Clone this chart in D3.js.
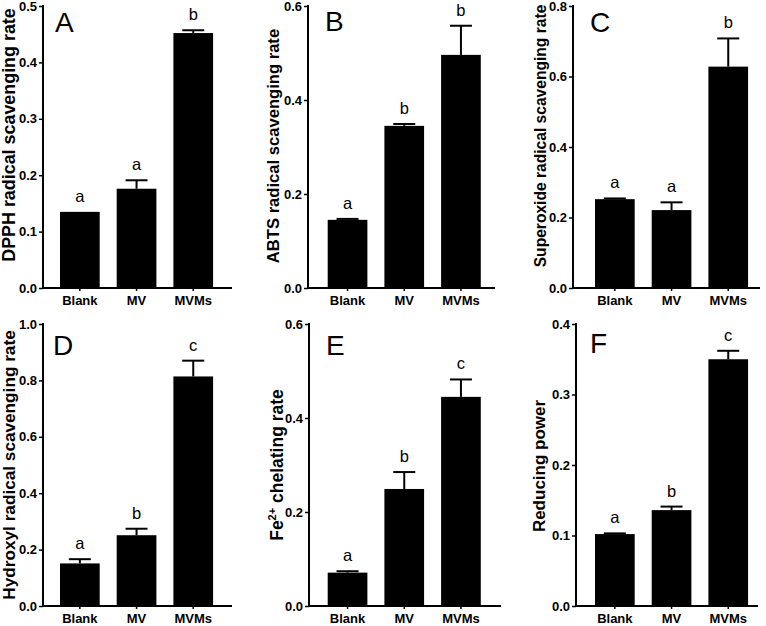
<!DOCTYPE html>
<html>
<head>
<meta charset="utf-8">
<script src="https://cdn.jsdelivr.net/npm/d3@7"></script>
<style>
  html, body { margin: 0; padding: 0; background: #fff; }
  svg { display: block; }
  text { font-family: "Liberation Sans", Arial, sans-serif; fill: #000; }
</style>
</head>
<body>
<svg id="chart" width="766" height="626"></svg>
<script>
// ---------- data ----------
const categories = ["Blank", "MV", "MVMs"];

const dpphValues = [0.135, 0.176, 0.452];
const dpphErrors = [0.000, 0.015, 0.005];
const dpphLetters = ["a", "a", "b"];
const dpphTicks = [0.0, 0.1, 0.2, 0.3, 0.4, 0.5];

const abtsValues = [0.145, 0.345, 0.496];
const abtsErrors = [0.002, 0.004, 0.062];
const abtsLetters = ["a", "b", "b"];
const abtsTicks = [0.0, 0.2, 0.4, 0.6];

const superoxideValues = [0.252, 0.221, 0.628];
const superoxideErrors = [0.002, 0.022, 0.080];
const superoxideLetters = ["a", "a", "b"];
const superoxideTicks = [0.0, 0.2, 0.4, 0.6, 0.8];

const hydroxylValues = [0.151, 0.251, 0.814];
const hydroxylErrors = [0.015, 0.023, 0.056];
const hydroxylLetters = ["a", "b", "c"];
const hydroxylTicks = [0.0, 0.2, 0.4, 0.6, 0.8, 1.0];

const feValues = [0.071, 0.249, 0.445];
const feErrors = [0.003, 0.036, 0.037];
const feLetters = ["a", "b", "c"];
const feTicks = [0.0, 0.2, 0.4, 0.6];

const reducingValues = [0.102, 0.136, 0.350];
const reducingErrors = [0.001, 0.005, 0.012];
const reducingLetters = ["a", "b", "c"];
const reducingTicks = [0.0, 0.1, 0.2, 0.3, 0.4];

const panelLabels = ["A", "B", "C", "D", "E", "F"];
const yTitles = [
  "DPPH radical scavenging rate",
  "ABTS radical scavenging rate",
  "Superoxide radical scavenging rate",
  "Hydroxyl radical scavenging rate",
  null, // Fe2+ chelating rate (with superscript)
  "Reducing power"
];

// ---------- layout (styles / positions) ----------
const layouts = [
  { axisX: 43,  xEnd: 232, barStart: 60,    y0: 288, yTop: 6,   titleX: 15,  titleY: 135, titleSize: 17.9, letterX: 55,  letterY: 32 },
  { axisX: 308, xEnd: 495, barStart: 327.7, y0: 288, yTop: 6,   titleX: 279, titleY: 146, titleSize: 16.6, letterX: 325, letterY: 31 },
  { axisX: 573, xEnd: 760, barStart: 595,   y0: 288, yTop: 6,   titleX: 546, titleY: 136, titleSize: 15.6, letterX: 590, letterY: 32 },
  { axisX: 43,  xEnd: 232, barStart: 60,    y0: 606, yTop: 324, titleX: 15,  titleY: 465, titleSize: 17.2, letterX: 53,  letterY: 355 },
  { axisX: 309, xEnd: 501, barStart: 327.7, y0: 606, yTop: 324, titleX: 283, titleY: 465, titleSize: 17.5, letterX: 326, letterY: 355 },
  { axisX: 576, xEnd: 758, barStart: 595,   y0: 606, yTop: 324, titleX: 545, titleY: 466, titleSize: 17,   letterX: 590, letterY: 353 }
];

const panels = [
  { values: dpphValues, errors: dpphErrors, letters: dpphLetters, ticks: dpphTicks, fmt: ".1f" },
  { values: abtsValues, errors: abtsErrors, letters: abtsLetters, ticks: abtsTicks, fmt: ".1f" },
  { values: superoxideValues, errors: superoxideErrors, letters: superoxideLetters, ticks: superoxideTicks, fmt: ".1f" },
  { values: hydroxylValues, errors: hydroxylErrors, letters: hydroxylLetters, ticks: hydroxylTicks, fmt: ".1f" },
  { values: feValues, errors: feErrors, letters: feLetters, ticks: feTicks, fmt: ".1f" },
  { values: reducingValues, errors: reducingErrors, letters: reducingLetters, ticks: reducingTicks, fmt: ".1f" }
];

const svg = d3.select("#chart");

panels.forEach((p, i) => {
  const L = layouts[i];
  const g = svg.append("g");

  const y = d3.scaleLinear()
    .domain([0, p.ticks[p.ticks.length - 1]])
    .range([L.y0, L.yTop]);

  const step = 56.7, pin = 0.3, pout = 0.3;
  const r0 = L.barStart - pout * step;
  const x = d3.scaleBand()
    .domain(categories)
    .range([r0, r0 + step * (categories.length - pin + 2 * pout)])
    .paddingInner(pin)
    .paddingOuter(pout);

  const data = categories.map((c, k) => ({ c, v: p.values[k], e: p.errors[k], l: p.letters[k] }));

  // bars
  g.selectAll("rect.bar").data(data).join("rect")
    .attr("class", "bar")
    .attr("x", d => x(d.c))
    .attr("width", x.bandwidth())
    .attr("y", d => y(d.v))
    .attr("height", d => y(0) - y(d.v))
    .attr("fill", "#000");

  // error bars (upper only)
  const capW = 22;
  data.forEach(d => {
    const cx = x(d.c) + x.bandwidth() / 2;
    if (d.e > 0) {
      g.append("line")
        .attr("x1", cx).attr("x2", cx)
        .attr("y1", y(d.v)).attr("y2", y(d.v + d.e))
        .attr("stroke", "#000").attr("stroke-width", 2);
      g.append("line")
        .attr("x1", cx - capW / 2).attr("x2", cx + capW / 2)
        .attr("y1", y(d.v + d.e)).attr("y2", y(d.v + d.e))
        .attr("stroke", "#000").attr("stroke-width", 2);
    }
    g.append("text")
      .attr("x", cx)
      .attr("y", y(d.v + d.e) - 10)
      .attr("text-anchor", "middle")
      .attr("font-size", 16.5)
      .text(d.l);
  });

  // y axis
  const yAxis = d3.axisLeft(y)
    .tickValues(p.ticks)
    .tickFormat(d3.format(p.fmt))
    .tickSize(4)
    .tickPadding(2);
  const ya = g.append("g")
    .attr("transform", `translate(${L.axisX},0)`)
    .call(yAxis);
  ya.attr("font-size", null).attr("font-family", null);
  ya.select(".domain").remove();
  ya.append("line")
    .attr("x1", 0).attr("x2", 0)
    .attr("y1", L.yTop - 1).attr("y2", L.y0 + 1)
    .attr("stroke", "#000").attr("stroke-width", 2);
  ya.selectAll(".tick line").attr("stroke", "#000").attr("stroke-width", 1.5);
  ya.selectAll(".tick text")
    .style("font-size", "13px")
    .style("font-weight", "bold")
    .style("font-family", "'Liberation Sans', Arial, sans-serif")
    .attr("fill", "#000");

  // x axis
  const xAxis = d3.axisBottom(x).tickSize(3).tickPadding(4);
  const xa = g.append("g")
    .attr("transform", `translate(0,${L.y0})`)
    .call(xAxis);
  xa.attr("font-size", null).attr("font-family", null);
  xa.select(".domain").remove();
  xa.append("line")
    .attr("x1", L.axisX - 1).attr("x2", L.xEnd)
    .attr("y1", 0).attr("y2", 0)
    .attr("stroke", "#000").attr("stroke-width", 2);
  xa.selectAll(".tick line").attr("stroke", "#000").attr("stroke-width", 1.5);
  xa.selectAll(".tick text")
    .style("font-size", "13px")
    .style("font-weight", "bold")
    .style("font-family", "'Liberation Sans', Arial, sans-serif")
    .attr("fill", "#000")
    .attr("dy", null)
    .attr("y", 17);

  // y title
  const t = g.append("text")
    .attr("transform", `translate(${L.titleX},${L.titleY}) rotate(-90)`)
    .attr("text-anchor", "middle")
    .attr("font-size", L.titleSize)
    .attr("font-weight", "bold");
  if (yTitles[i]) {
    t.text(yTitles[i]);
  } else {
    t.append("tspan").text("Fe");
    t.append("tspan").attr("font-size", 11).attr("dy", -7).text("2+");
    t.append("tspan").attr("dy", 7).text(" chelating rate");
  }

  // panel letter
  g.append("text")
    .attr("x", L.letterX)
    .attr("y", L.letterY)
    .attr("font-size", 28)
    .text(panelLabels[i]);
});
</script>
</body>
</html>
